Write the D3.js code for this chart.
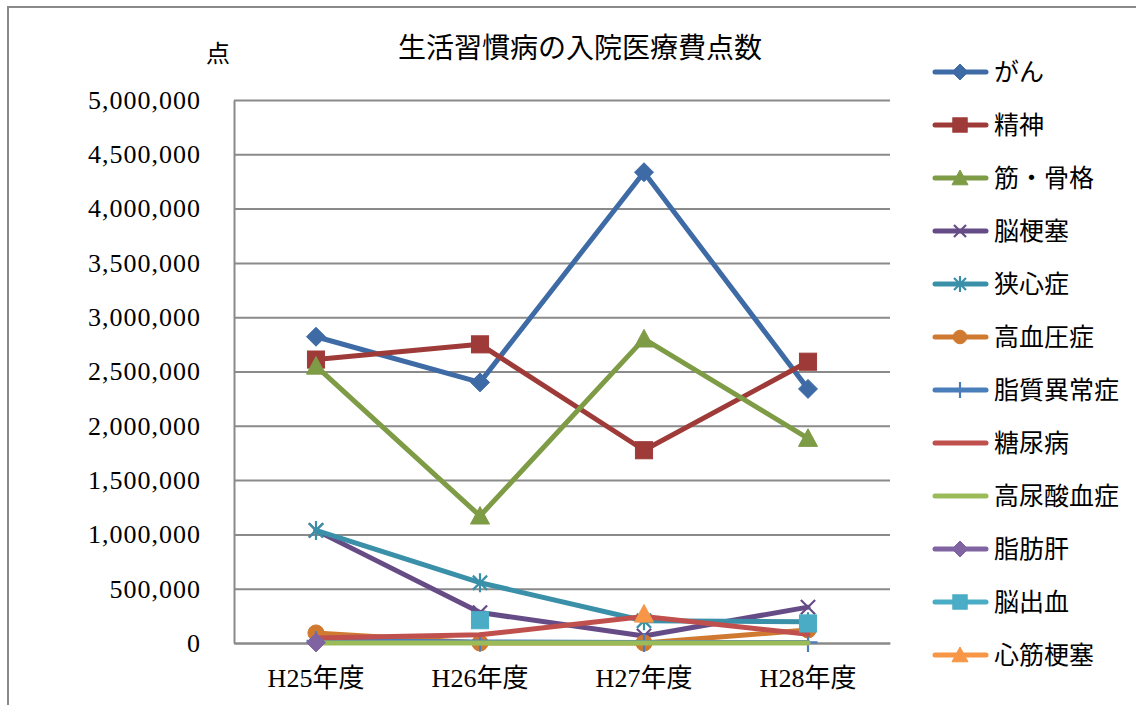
<!DOCTYPE html>
<html>
<head>
<meta charset="utf-8">
<script src="https://cdn.jsdelivr.net/npm/d3@7"></script>
<style>
  html, body { margin: 0; padding: 0; background: #fff; }
  svg { display: block; }
  text { font-family: 'Liberation Serif', 'Noto Sans CJK JP', serif; fill: #000; }
</style>
</head>
<body>
<svg id="chart" width="1136" height="705"></svg>
<script>
// Fiscal years on the category axis
const categories = ["H25年度", "H26年度", "H27年度", "H28年度"];

// Inpatient medical-cost points per disease group (null = no data)
const gan          = [2820000, 2400000, 4335000, 2340000];
const seishin      = [2610000, 2750000, 1775000, 2590000];
const kinKokkaku   = [2550000, 1170000, 2800000, 1885000];
const nouKousoku   = [1037000,  280000,   65000,  330000];
const kyoushinshou = [1037000,  555000,  205000,  195000];
const kouketsuatsu = [  92000,       0,       0,  120000];
const shishitsu    = [  20000,   10000,    5000,    5000];
const tounyoubyou  = [  45000,   75000,  245000,   80000];
const kounyousan   = [      0,       0,       0,       0];
const shiboukan    = [   5000,    null,    null,    null];
const noushukketsu = [   null,  210000,    null,  180000];
const shinkinKousoku = [ null,    null,  267000,    null];

// Value-axis ticks
const yTicks = [0, 500000, 1000000, 1500000, 2000000, 2500000, 3000000, 3500000, 4000000, 4500000, 5000000];

const seriesList = [
  { name: "がん",       values: gan,            color: "#3E6BA5", marker: "diamond" },
  { name: "精神",       values: seishin,        color: "#9E3B39", marker: "square" },
  { name: "筋・骨格",   values: kinKokkaku,     color: "#7E9B45", marker: "triangle" },
  { name: "脳梗塞",     values: nouKousoku,     color: "#664C87", marker: "x" },
  { name: "狭心症",     values: kyoushinshou,   color: "#3A90A8", marker: "star" },
  { name: "高血圧症",   values: kouketsuatsu,   color: "#D07A31", marker: "circle" },
  { name: "脂質異常症", values: shishitsu,      color: "#4A7EBB", marker: "plus" },
  { name: "糖尿病",     values: tounyoubyou,    color: "#C0504D", marker: "none" },
  { name: "高尿酸血症", values: kounyousan,     color: "#9BBB59", marker: "none" },
  { name: "脂肪肝",     values: shiboukan,      color: "#8064A2", marker: "diamond" },
  { name: "脳出血",     values: noushukketsu,   color: "#4BACC6", marker: "square" },
  { name: "心筋梗塞",   values: shinkinKousoku, color: "#F79646", marker: "triangle" }
];

const svg = d3.select("#chart");
const plot = { left: 234, right: 890, top: 100, bottom: 643 };
const gridColor = "#8a8a8a";

// Outer chart frame
svg.append("rect")
  .attr("x", 8).attr("y", 7)
  .attr("width", 1140).attr("height", 720)
  .attr("fill", "none").attr("stroke", gridColor).attr("stroke-width", 2);

const x = d3.scaleBand().domain(categories).range([plot.left, plot.right]).padding(0);
const xc = d => x(d) + x.bandwidth() / 2;
const y = d3.scaleLinear().domain([0, 5000000]).range([plot.bottom, plot.top]);

// Value axis with horizontal gridlines
const yAxis = svg.append("g")
  .attr("transform", `translate(${plot.left},0)`)
  .call(d3.axisLeft(y)
    .tickValues(yTicks)
    .tickFormat(d3.format(","))
    .tickSize(-(plot.right - plot.left))
    .tickSizeOuter(0)
    .tickPadding(33));
yAxis.select(".domain").attr("stroke", gridColor).attr("stroke-width", 2);
yAxis.selectAll(".tick line").attr("stroke", gridColor).attr("stroke-width", 2);
yAxis.selectAll(".tick text")
  .attr("font-size", 26)
  .attr("letter-spacing", 1)
  .style("font-family", "'Liberation Serif', serif");

// Category axis
const xAxis = svg.append("g")
  .attr("transform", `translate(0,${plot.bottom})`)
  .call(d3.axisBottom(x).tickSize(0).tickSizeOuter(0).tickPadding(26));
xAxis.select(".domain").attr("stroke", gridColor).attr("stroke-width", 2);
xAxis.selectAll(".tick text").attr("font-size", 26);

// Title and unit label
svg.append("text")
  .attr("x", 580).attr("y", 48)
  .attr("text-anchor", "middle").attr("dominant-baseline", "central")
  .attr("font-size", 28)
  .text("生活習慣病の入院医療費点数");
svg.append("text")
  .attr("x", 218).attr("y", 54)
  .attr("text-anchor", "middle").attr("dominant-baseline", "central")
  .attr("font-size", 24)
  .text("点");

// Marker shapes
function drawMarker(g, type, cx, cy, color, s) {
  const r = s / 2;
  if (type === "diamond") {
    g.append("path").attr("d", `M${cx},${cy - r}L${cx + r},${cy}L${cx},${cy + r}L${cx - r},${cy}Z`)
      .attr("fill", color).attr("stroke", color);
  } else if (type === "square") {
    g.append("rect").attr("x", cx - r * 0.9).attr("y", cy - r * 0.9)
      .attr("width", r * 1.8).attr("height", r * 1.8)
      .attr("fill", color).attr("stroke", color);
  } else if (type === "triangle") {
    g.append("path").attr("d", `M${cx},${cy - r}L${cx + r},${cy + r * 0.85}L${cx - r},${cy + r * 0.85}Z`)
      .attr("fill", color).attr("stroke", color);
  } else if (type === "circle") {
    g.append("circle").attr("cx", cx).attr("cy", cy).attr("r", r * 0.85)
      .attr("fill", color).attr("stroke", color);
  } else if (type === "x" || type === "star") {
    const k = r * 0.75;
    g.append("path").attr("d", `M${cx - k},${cy - k}L${cx + k},${cy + k}M${cx - k},${cy + k}L${cx + k},${cy - k}`
      + (type === "star" ? `M${cx},${cy - r}L${cx},${cy + r}` : ""))
      .attr("stroke", color).attr("stroke-width", 2.2).attr("fill", "none");
  } else if (type === "plus") {
    g.append("path").attr("d", `M${cx},${cy - r}L${cx},${cy + r}M${cx - r},${cy}L${cx + r},${cy}`)
      .attr("stroke", color).attr("stroke-width", 2.2).attr("fill", "none");
  }
}

// Series lines with markers, drawn in series order
const line = d3.line()
  .defined(d => d.v != null)
  .x(d => xc(d.c))
  .y(d => y(d.v));

seriesList.forEach(s => {
  const g = svg.append("g");
  const pts = categories.map((c, i) => ({ c, v: s.values[i] }));
  g.append("path")
    .datum(pts)
    .attr("d", line)
    .attr("fill", "none")
    .attr("stroke", s.color)
    .attr("stroke-width", 5)
    .attr("stroke-linejoin", "round")
    .attr("stroke-linecap", "round");
  pts.filter(p => p.v != null).forEach(p => drawMarker(g, s.marker, xc(p.c), y(p.v), s.color, 19));
});

// Legend
const legend = svg.append("g");
seriesList.forEach((s, i) => {
  const ly = 72 + i * 53;
  const g = legend.append("g");
  g.append("line")
    .attr("x1", 935).attr("x2", 986).attr("y1", ly).attr("y2", ly)
    .attr("stroke", s.color).attr("stroke-width", 5).attr("stroke-linecap", "round");
  drawMarker(g, s.marker, 960, ly, s.color, 16);
  g.append("text")
    .attr("x", 994).attr("y", ly)
    .attr("dominant-baseline", "central")
    .attr("font-size", 25)
    .text(s.name);
});
</script>
</body>
</html>
